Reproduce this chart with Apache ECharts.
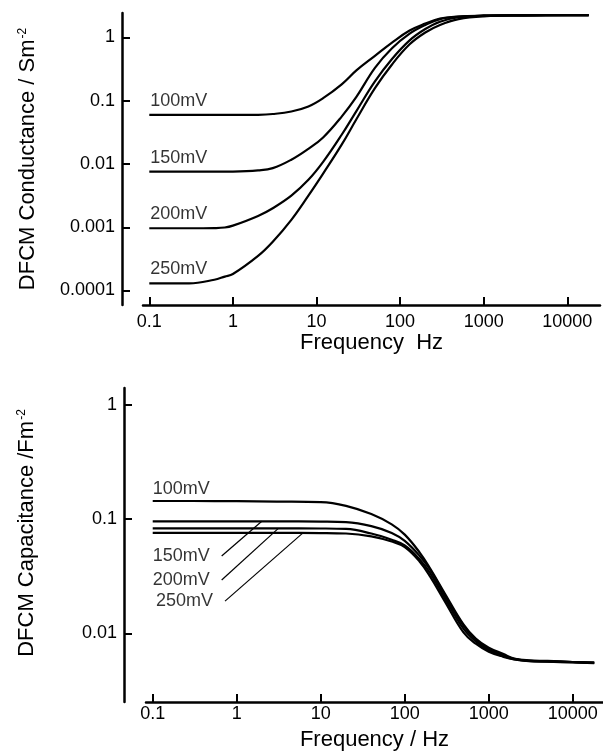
<!DOCTYPE html>
<html>
<head>
<meta charset="utf-8">
<script src="https://cdn.jsdelivr.net/npm/echarts@6/dist/echarts.min.js"></script>
<style>
  html, body { margin: 0; padding: 0; background: #fff; }
  #chart { width: 603px; height: 755px; }
</style>
</head>
<body>
<div id="chart"></div>
<script>
// ---- DFCM conductance (S m^-2) vs frequency (Hz), one curve per applied voltage ----
const condFreq = [0.1, 0.3, 0.6, 0.8, 1, 2, 3, 5, 8, 12, 20, 30, 50, 80, 130, 200, 300, 500, 1000, 3000, 10000, 18000];
const cond100 = [0.0596, 0.0596, 0.0596, 0.0596, 0.0596, 0.0600, 0.0617, 0.0676, 0.0813, 0.110, 0.182, 0.302, 0.513, 0.832, 1.29, 1.66, 2.00, 2.14, 2.21, 2.24, 2.26, 2.26];
const cond150 = [0.00757, 0.00757, 0.00757, 0.00757, 0.00759, 0.00794, 0.00861, 0.0117, 0.0174, 0.0263, 0.0562, 0.115, 0.331, 0.676, 1.15, 1.58, 1.95, 2.14, 2.21, 2.24, 2.26, 2.26];
const cond200 = [0.000964, 0.000964, 0.00097, 0.00099, 0.00106, 0.00151, 0.00200, 0.00316, 0.00562, 0.0108, 0.0290, 0.0686, 0.202, 0.457, 0.90, 1.36, 1.78, 2.09, 2.21, 2.24, 2.26, 2.26];
const cond250 = [0.000130, 0.000130, 0.000148, 0.000166, 0.000182, 0.000352, 0.00059, 0.00131, 0.00316, 0.00705, 0.0202, 0.051, 0.158, 0.375, 0.78, 1.20, 1.58, 1.95, 2.16, 2.24, 2.26, 2.26];

// ---- DFCM capacitance (F m^-2) vs frequency (Hz) ----
const capFreq = [0.1, 0.3, 1, 3, 10, 20, 40, 70, 100, 150, 200, 300, 500, 700, 1000, 1500, 2000, 3000, 5000, 10000, 18000];
const cap100 = [0.1445, 0.1445, 0.1439, 0.1429, 0.1413, 0.131, 0.111, 0.0902, 0.0733, 0.0513, 0.0372, 0.0224, 0.0120, 0.00902, 0.00750, 0.00660, 0.00603, 0.00581, 0.00575, 0.00562, 0.00555];
const cap150 = [0.0959, 0.0959, 0.0959, 0.0959, 0.0955, 0.0944, 0.0871, 0.0759, 0.0646, 0.0479, 0.0363, 0.0216, 0.0117, 0.00881, 0.00724, 0.00646, 0.00600, 0.00575, 0.00569, 0.00562, 0.00555];
const cap200 = [0.0832, 0.0832, 0.0832, 0.0832, 0.0830, 0.0822, 0.0750, 0.0661, 0.0589, 0.0447, 0.0339, 0.0204, 0.0110, 0.00851, 0.00708, 0.00631, 0.00596, 0.00575, 0.00569, 0.00560, 0.00552];
const cap250 = [0.0759, 0.0759, 0.0759, 0.0759, 0.0757, 0.0750, 0.0708, 0.0638, 0.0569, 0.0427, 0.0316, 0.0191, 0.0102, 0.00813, 0.00692, 0.00624, 0.00592, 0.00573, 0.00566, 0.00557, 0.00550];

// Leader lines tying the 150/200/250 mV captions to their capacitance curves: [freq, value]
const leaderFrom = [[0.662, 0.0477], [0.662, 0.0294], [0.726, 0.0192]];
const leaderTo = [[1.99, 0.0959], [3.13, 0.0832], [6.15, 0.0759]];

const voltages = ['100mV', '150mV', '200mV', '250mV'];
const freqTicks = [0.1, 1, 10, 100, 1000, 10000];
const condTicks = [0.0001, 0.001, 0.01, 0.1, 1];
const capTicks = [0.01, 0.1, 1];

const condSeries = [cond100, cond150, cond200, cond250];
const capSeries = [cap100, cap150, cap200, cap250];

const FONT = '"Liberation Sans", Arial, Helvetica, sans-serif';
const INK = '#000';

const fmt = v => String(+(+v).toPrecision(6));

function pairs(xs, ys) { return xs.map((x, i) => [x, ys[i]]); }

function xAxisCfg(gridIndex, name, min, max, labelMargin, nameGap) {
  return {
    type: 'log', gridIndex, min, max,
    name, nameLocation: 'middle', nameGap,
    nameTextStyle: { fontFamily: FONT, fontSize: 22, color: INK },
    axisLine: { show: true, onZero: false, lineStyle: { color: INK, width: 2.5 } },
    axisTick: { show: true, inside: true, length: 8, customValues: freqTicks, lineStyle: { color: INK, width: 2 } },
    axisLabel: { show: true, margin: labelMargin, customValues: freqTicks, formatter: fmt, fontFamily: FONT, fontSize: 18, color: INK },
    splitLine: { show: false }
  };
}

function yAxisCfg(gridIndex, name, min, max, ticks, offset, nameGap, namePad) {
  return {
    type: 'log', gridIndex, min, max, offset,
    name, nameLocation: 'middle', nameGap,
    nameTextStyle: {
      fontFamily: FONT, fontSize: 22, color: INK, padding: namePad,
      rich: {
        t: { fontFamily: FONT, fontSize: 22, color: INK },
        s: { fontFamily: FONT, fontSize: 12, color: INK, verticalAlign: 'top', padding: [0, 0, 8, 1] }
      }
    },
    axisLine: { show: true, onZero: false, lineStyle: { color: INK, width: 2.5 } },
    axisTick: { show: true, inside: true, length: 8, customValues: ticks, lineStyle: { color: INK, width: 2 } },
    axisLabel: { show: true, margin: 7, customValues: ticks, formatter: fmt, fontFamily: FONT, fontSize: 18, color: INK },
    splitLine: { show: false }
  };
}

const series = [];

// Conductance curves
condSeries.forEach((ys, i) => {
  series.push({
    type: 'line', name: voltages[i], xAxisIndex: 0, yAxisIndex: 0,
    data: pairs(condFreq, ys), showSymbol: false, symbol: 'none',
    smooth: 0.4,
    lineStyle: { color: INK, width: 2.2 }, silent: true
  });
});
// Conductance curve captions at each curve's low-frequency start
series.push({
  type: 'scatter', xAxisIndex: 0, yAxisIndex: 0, symbolSize: 0, silent: true,
  data: voltages.map((v, i) => ({ name: v, value: [condFreq[0], condSeries[i][0]] })),
  label: { show: true, formatter: '{b}', position: [1, -14], align: 'left', verticalAlign: 'middle',
           fontFamily: FONT, fontSize: 18, color: INK }
});

// Capacitance curves
capSeries.forEach((ys, i) => {
  series.push({
    type: 'line', name: voltages[i], xAxisIndex: 1, yAxisIndex: 1,
    data: pairs(capFreq, ys), showSymbol: false, symbol: 'none',
    smooth: 0.4,
    lineStyle: { color: INK, width: 2.2 }, silent: true
  });
});
// Leader lines
leaderFrom.forEach((p, i) => {
  series.push({
    type: 'line', xAxisIndex: 1, yAxisIndex: 1, data: [p, leaderTo[i]],
    showSymbol: false, symbol: 'none', lineStyle: { color: INK, width: 1.2 }, silent: true
  });
});
// Capacitance captions: 100mV above its curve, the rest beside their leader lines
series.push({
  type: 'scatter', xAxisIndex: 1, yAxisIndex: 1, symbolSize: 0, silent: true,
  data: [{ name: voltages[0], value: [capFreq[0], cap100[0]] }],
  label: { show: true, formatter: '{b}', position: [0, -12], align: 'left', verticalAlign: 'middle',
           fontFamily: FONT, fontSize: 18, color: INK }
});
series.push({
  type: 'scatter', xAxisIndex: 1, yAxisIndex: 1, symbolSize: 0, silent: true,
  data: leaderFrom.map((p, i) => ({ name: voltages[i + 1], value: p })),
  label: { show: true, formatter: '{b}', position: [-12, 0], align: 'right', verticalAlign: 'middle',
           fontFamily: FONT, fontSize: 18, color: INK }
});

const chart = echarts.init(document.getElementById('chart'), null, { renderer: 'canvas' });
chart.setOption({
  animation: false,
  backgroundColor: '#fff',
  textStyle: { fontFamily: FONT, color: INK },
  grid: [
    { left: 143, top: 13, width: 457, height: 292 },
    { left: 146, top: 388, width: 457, height: 314 }
  ],
  xAxis: [
    xAxisCfg(0, 'Frequency  Hz', 0.0841, 24600, 8, 26),
    xAxisCfg(1, 'Frequency / Hz', 0.0832, 22900, 3, 27)
  ],
  yAxis: [
    yAxisCfg(0, '{t|DFCM Conductance / Sm}{s|-2}', 0.000059, 2.44, condTicks, 21, 83, [0, 0, 0, 0]),
    yAxisCfg(1, '{t|DFCM Capacitance /Fm}{s|-2}', 0.00251, 1.41, capTicks, 22, 86, [0, 0, 0, 24])
  ],
  series
});
</script>
</body>
</html>
